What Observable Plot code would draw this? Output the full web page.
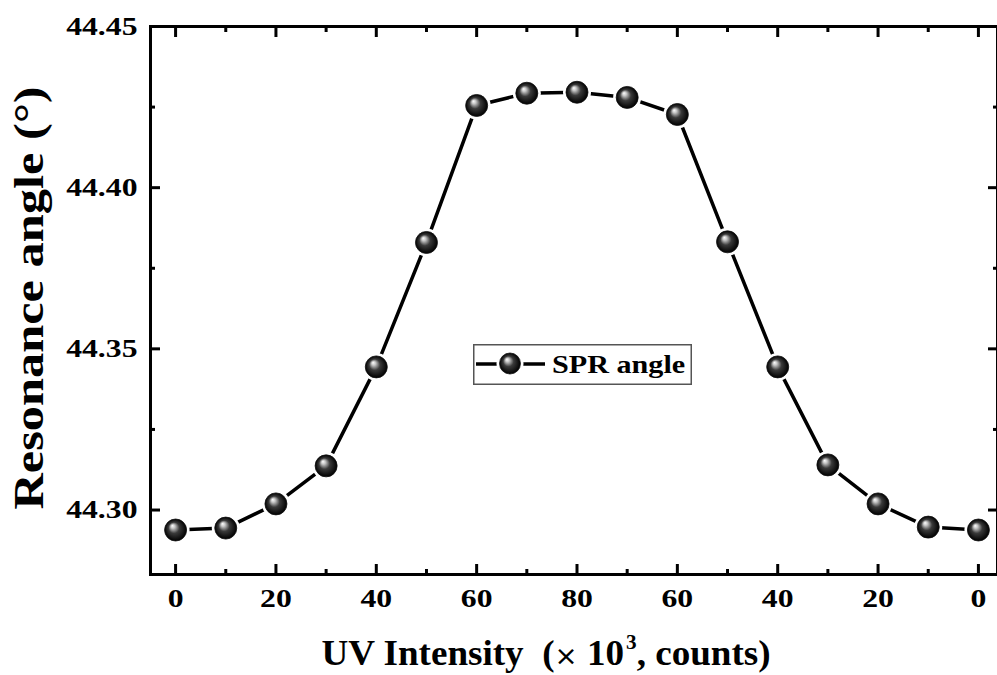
<!DOCTYPE html>
<html>
<head>
<meta charset="utf-8">
<script src="https://cdn.jsdelivr.net/npm/d3@7"></script>
<script src="https://cdn.jsdelivr.net/npm/@observablehq/plot@0.6"></script>
<style>
  html, body { margin: 0; padding: 0; background: #ffffff; overflow: hidden; }
  #wrap { position: relative; width: 997px; height: 675px; }
  #legend { position: absolute; left: 473px; top: 344px; }
</style>
</head>
<body>
<div id="wrap"></div>
<script>
// ---- data ----
const xLabels = ["0","10","20","30","40","50","60","70","80","70","60","50","40","30","20","10","0"];
const xTickLabelIdx = [0, 2, 4, 6, 8, 10, 12, 14, 16];
const angle = [44.2938, 44.2944, 44.3019, 44.3137, 44.3444, 44.3830, 44.4255, 44.4293, 44.4296,
               44.4280, 44.4227, 44.3832, 44.3444, 44.3140, 44.3019, 44.2947, 44.2938];
const yMajor = [44.30, 44.35, 44.40, 44.45];
const yMinor = [44.325, 44.375, 44.425];
const seriesName = "SPR angle";
const xTitle = "UV Intensity";
const yTitle = "Resonance angle (°)";

const idx = d3.range(xLabels.length);
const data = idx.map(i => ({i, v: angle[i]}));
const xMinorIdx = idx.filter(i => !xTickLabelIdx.includes(i));
const FONT = "'Liberation Serif', 'Times New Roman', serif";

const tickOpts = (extra) => Object.assign({strokeWidth: 3, tickFormat: () => "", label: null}, extra);

const svg = Plot.plot({
  width: 997,
  height: 675,
  marginLeft: 150,
  marginTop: 26,
  marginBottom: 101,
  marginRight: 0,
  style: {fontFamily: FONT, background: "transparent", color: "black"},
  x: {domain: [-0.5, 16.5], range: [150, 1003], axis: null, label: null},
  y: {domain: [44.28, 44.45], range: [574, 26], axis: null, label: null},
  marks: [
    // inward ticks
    Plot.axisX(xTickLabelIdx, tickOpts({anchor: "bottom", tickSize: -10})),
    Plot.axisX(xMinorIdx, tickOpts({anchor: "bottom", tickSize: -5})),
    Plot.axisX(xTickLabelIdx, tickOpts({anchor: "top", tickSize: -10})),
    Plot.axisX(xMinorIdx, tickOpts({anchor: "top", tickSize: -5})),
    Plot.axisY(yMajor, tickOpts({anchor: "left", tickSize: -10})),
    Plot.axisY(yMinor, tickOpts({anchor: "left", tickSize: -5})),
    Plot.axisY(yMajor, tickOpts({anchor: "right", tickSize: -10})),
    Plot.axisY(yMinor, tickOpts({anchor: "right", tickSize: -5})),
    // tick labels
    Plot.axisX(xTickLabelIdx, {anchor: "bottom", tickSize: 0, tickPadding: 14, tickFormat: i => xLabels[i],
      fontSize: 26, fontWeight: "bold", fill: "black", className: "xlab", label: null}),
    Plot.axisY(yMajor, {anchor: "left", tickSize: 0, tickPadding: 13, tickFormat: d3.format(".2f"),
      fontSize: 26, fontWeight: "bold", fill: "black", className: "ylab", label: null}),
    Plot.frame({stroke: "black", strokeWidth: 3}),
    Plot.line(data, {x: "i", y: "v", stroke: "black", strokeWidth: 3.5}),
    Plot.dot(data, {x: "i", y: "v", r: 14, fill: "white"}),
    Plot.dot(data, {x: "i", y: "v", r: 11, fill: "url(#ball)", stroke: "#111", strokeWidth: 0.8})
  ]
});

const S = d3.select(svg);
S.attr("overflow", "hidden");
S.insert("defs", ":first-child").html(`
  <radialGradient id="ball" cx="0.5" cy="0.5" r="0.5" fx="0.35" fy="0.3">
    <stop offset="0" stop-color="#ffffff"/>
    <stop offset="0.18" stop-color="#c8c8c8"/>
    <stop offset="0.5" stop-color="#3a3a3a"/>
    <stop offset="0.85" stop-color="#111"/>
    <stop offset="1" stop-color="#000"/>
  </radialGradient>`);

function stretch(sel, sx) {
  sel.each(function() {
    const t = this.getAttribute("transform");
    if (t) this.setAttribute("transform", t + ` scale(${sx},1)`);
    else {
      const x = +(this.getAttribute("x") || 0);
      this.removeAttribute("x");
      this.setAttribute("transform", `translate(${x},0) scale(${sx},1)`);
    }
  });
}
stretch(S.selectAll(".xlab text"), 1.22);
stretch(S.selectAll(".ylab text"), 1.22);

// axis titles
S.append("text")
  .attr("transform", "translate(43,298) rotate(-90) scale(1.2,1)")
  .attr("text-anchor", "middle")
  .attr("font-family", FONT).attr("font-weight", "bold").attr("font-size", 42)
  .attr("fill", "black")
  .text(yTitle);

const xt = S.append("text")
  .attr("transform", "translate(546,665) scale(1.06,1)")
  .attr("text-anchor", "middle")
  .attr("font-family", FONT).attr("font-weight", "bold").attr("font-size", 35)
  .attr("fill", "black")
  .attr("xml:space", "preserve");
xt.append("tspan").text(xTitle + "  (");
xt.append("tspan").attr("font-family", "'DejaVu Sans', sans-serif").attr("font-weight", "normal").attr("font-size", 26).text("×");
xt.append("tspan").text(" 10");
xt.append("tspan").attr("font-size", 20).attr("dy", -16).attr("dx", 2).text("3");
xt.append("tspan").attr("dy", 16).attr("dx", 0).text(", counts)");

document.getElementById("wrap").appendChild(svg);

// legend
const lg = d3.select("#wrap").append("svg").attr("id", "legend").attr("width", 219).attr("height", 41);
lg.append("rect").attr("x", 0.75).attr("y", 0.75).attr("width", 217.5).attr("height", 39.5)
  .attr("fill", "white").attr("stroke", "#555").attr("stroke-width", 1.5);
lg.append("line").attr("x1", 3).attr("x2", 72).attr("y1", 20).attr("y2", 20).attr("stroke", "black").attr("stroke-width", 3.5);
lg.append("circle").attr("cx", 37).attr("cy", 19.5).attr("r", 13.5).attr("fill", "white");
lg.append("circle").attr("cx", 37).attr("cy", 19.5).attr("r", 10.5).attr("fill", "url(#ball)").attr("stroke", "#111").attr("stroke-width", 0.8);
lg.append("text").attr("transform", "translate(79,29) scale(1.16,1)")
  .attr("font-family", FONT).attr("font-weight", "bold").attr("font-size", 26).attr("fill", "black")
  .text(seriesName);
</script>
</body>
</html>
